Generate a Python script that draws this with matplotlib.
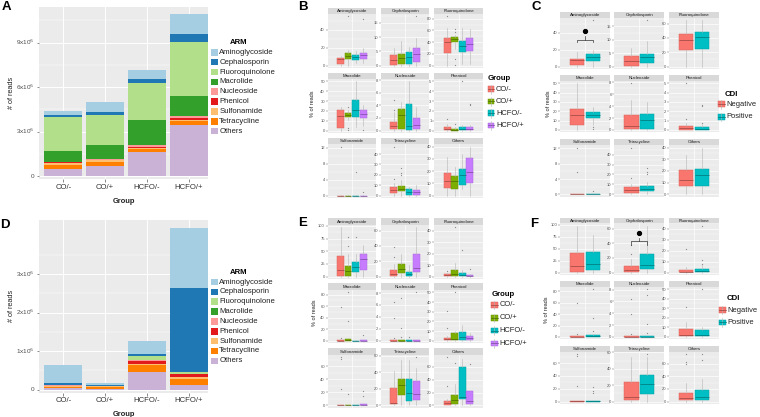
import numpy as np
import matplotlib
matplotlib.use('Agg')
import matplotlib.pyplot as plt
import matplotlib.colors as mcolors
from matplotlib.patches import Rectangle
from matplotlib.lines import Line2D

plt.rcParams['font.family'] = ['Liberation Sans', 'DejaVu Sans']

# %%
# Data

groups = ['CO/-', 'CO/+', 'HCFO/-', 'HCFO/+']
cdi = ['Negative', 'Positive']
arm = ['Aminoglycoside', 'Cephalosporin', 'Fluoroquinolone', 'Macrolide', 'Nucleoside',
       'Phenicol', 'Sulfonamide', 'Tetracycline', 'Others']
arm_colors = ['#A6CEE3', '#1F78B4', '#B2DF8A', '#33A02C', '#FB9A99',
              '#E31A1C', '#FDBF6F', '#FF7F00', '#CAB2D6']
group_colors = ['#F8766D', '#7CAE00', '#00BFC4', '#C77CFF']
cdi_colors = ['#F8766D', '#00BFC4']

# reads (millions), rows follow arm, columns follow groups
reads_A = [[0.31, 0.61, 0.61, 1.35],
           [0.13, 0.22, 0.29, 0.54],
           [2.25, 2.07, 2.47, 3.64],
           [0.74, 0.92, 1.73, 1.33],
           [0.05, 0.05, 0.11, 0.11],
           [0.02, 0.02, 0.03, 0.16],
           [0.16, 0.09, 0.07, 0.05],
           [0.25, 0.31, 0.25, 0.29],
           [0.49, 0.67, 1.60, 3.44]]
reads_D = [[0.47, 0.04, 0.32, 1.57],
           [0.05, 0.025, 0.07, 2.19],
           [0.005, 0.003, 0.08, 0.03],
           [0.003, 0.002, 0.02, 0.005],
           [0.003, 0.002, 0.02, 0.01],
           [0.005, 0.003, 0.07, 0.08],
           [0.02, 0.01, 0.02, 0.04],
           [0.05, 0.06, 0.20, 0.15],
           [0.03, 0.015, 0.45, 0.13]]

# box stats (% of reads), one row per ARM facet
B_q1 = [[2, 7.6, 6.5, 7.6], [0.3, 0.6, 0.7, 1.2], [22, 40, 24, 25], [2.5, 14, 14, 13], [0.2, 0.2, 0.1, 0.2],
        [0.05, 0, 0.05, 0.05], [0, 0, 0, 0], [2, 4, 1, 1], [6, 5.5, 9, 10]]
B_med = [[7.4, 10.6, 9.1, 11.4], [1.8, 2.7, 3.0, 3.9], [40, 45.7, 33.8, 36.8], [15, 16, 21, 17], [0.8, 2.4, 0.7, 0.9],
         [0.2, 0.1, 0.2, 0.15], [0, 0, 0, 0], [5, 6.5, 3, 3], [12, 12, 16.5, 19]]
B_q3 = [[8.5, 14, 11.4, 14], [3.7, 4.0, 4.9, 6.3], [47.4, 49.2, 41.5, 46.8], [21, 18, 31, 21], [1.4, 3.5, 4.2, 2.0],
        [0.35, 0.15, 0.35, 0.35], [0, 0, 0, 0], [8, 9.5, 6, 5.5], [18.5, 16, 21.5, 31]]
B_lo = [[0, 0, 3, 3], [0, 0, 0, 0], [0, 28, 3, 2], [0, 11, 4, 5], [0, 0, 0, 0],
        [0, 0, 0, 0], [0, 0, 0, 0], [0, 0, 0, 0], [0, 0, 5, 0]]
B_hi = [[10.6, 17, 16, 20], [6.3, 8.5, 6.7, 9.8], [65, 52, 65, 62], [24, 21, 50, 26], [3, 4.6, 7.8, 3.8],
        [0.7, 0.4, 0.6, 0.6], [0.1, 0.1, 0.1, 0.1], [12, 15, 8, 10], [32, 23, 34, 40]]
B_fl = [[[], [55], [], [52.6]], [[], [], [], [17.3]], [[84], [63, 57, 12, 1], [], []],
        [[], [24, 3, 1], [], [1]], [[4.9, 3.3], [], [], []], [[1.2], [0.7], [5.0], [2.7, 2.6]],
        [[12.2], [], [5.9], [1.0]], [[47, 16], [27, 22, 20], [], []], [[], [], [], []]]
B_step = [20, 5, 20, 10, 2, 1, 4, 10, 10]

C_q1 = [[2, 7], [0.3, 1.3], [23, 25], [5, 13], [0.1, 0.2], [0.05, 0.05], [0, 0], [1, 3.5], [7, 7]]
C_med = [[7.5, 11], [2, 3.5], [37, 42], [16, 16], [0.7, 1.6], [0.25, 0.15], [0, 0], [4, 5.5], [12, 16.5]]
C_q3 = [[9.5, 15], [4, 4.7], [46, 48], [23, 19], [2.5, 2.7], [0.4, 0.3], [0, 0], [7, 8], [21, 21.5]]
C_lo = [[0, 0], [0, 0], [0, 0], [0, 5], [0, 0], [0, 0], [0, 0], [0, 0], [0, 0]]
C_hi = [[17, 20], [7, 9.5], [65, 65], [50, 25], [5, 4.6], [0.8, 0.6], [0.1, 0.1], [10, 12], [34, 40]]
C_fl = [[[], [55]], [[], [17.3]], [[], []], [[], [3, 1]], [[7.8], []], [[1.2, 5.0], [2.7, 2.6, 0.7]],
        [[12.2, 5.9], [1.0]], [[47, 16], [27, 22, 20]], [[], []]]
C_step = [20, 5, 20, 10, 2, 1, 4, 10, 10]

E_q1 = [[2, 2, 8, 12], [1, 4, 1, 6], [0.3, 0.5, 0.3, 0.1], [0.2, 0.2, 0, 0], [0, 0, 0, 0],
        [0.5, 0.5, 1, 1], [0, 0, 0, 0], [1, 12, 5, 6], [1, 2, 10, 2]]
E_med = [[13, 10, 18, 34], [3.5, 10, 3, 11], [1, 2, 1.5, 0.5], [0.5, 1, 0.2, 0.5], [0.05, 0.05, 0.05, 0.05],
         [1.5, 2, 3.5, 2.5], [0.2, 0.2, 0.2, 1], [3, 25, 15, 14], [4, 9, 13, 6]]
E_q3 = [[41, 20, 28, 45], [9, 16.5, 6, 29], [2, 5.5, 3, 1], [1, 2.5, 0.5, 1], [0.1, 0.1, 0.1, 0.1],
        [3, 8, 9.5, 5.5], [0.4, 0.4, 0.4, 1.5], [21, 32, 32, 29], [7, 16, 60, 22]]
E_lo = [[0, 0, 0, 0]] * 9
E_hi = [[97, 45, 45, 62], [17, 29, 15, 64], [3, 12, 6, 2], [2, 4, 1, 2], [0.2, 0.2, 0.2, 0.2],
        [5, 10, 16, 8], [0.8, 0.8, 0.8, 2], [42, 55, 55, 45], [10, 34, 72, 22]]
E_fl = [[[], [78, 60], [78], []], [[38, 26], [], [], []], [[5], [43], [23], [7]],
        [[59, 5], [84, 34], [], [11]], [[6.5, 3.9, 0.5], [7.1, 2.2, 0.6], [0.6], [8.1]],
        [[31, 13], [50], [], []], [[74, 71, 25], [17], [], [22, 14]], [[], [], [], [58]],
        [[75, 30], [66], [], [65]]]
E_step = [25, 20, 10, 20, 2, 10, 20, 20, 20]

F_q1 = [[1, 6], [1, 5], [0.3, 0.5], [0, 0.2], [0, 0], [0.5, 1], [0, 0], [2, 9], [2, 2]]
F_med = [[14, 18], [3, 10], [1, 1.5], [0.5, 1], [0.05, 0.05], [1.5, 2], [0.2, 0.5], [6, 21], [6, 7]]
F_q3 = [[41, 44], [9, 25], [2.5, 3.5], [1, 2.5], [0.1, 0.1], [8, 7], [0.4, 1], [24, 32], [13, 19]]
F_lo = [[0, 0]] * 9
F_hi = [[98, 78], [18, 64], [5, 7], [2, 5], [0.2, 0.2], [16, 10], [0.8, 2], [54, 55], [30, 36]]
F_fl = [[[], []], [[38, 26], []], [[22], [43, 12, 8]], [[59, 5], [84, 34, 11]],
        [[6.5, 3.9, 0.5], [8.1, 7.1, 2.2, 0.6]], [[31], [50]], [[74, 71, 25], [22, 17, 14]],
        [[], [58]], [[75, 63, 60], [75, 66]]]
F_step = [25, 20, 10, 20, 2, 10, 20, 20, 20]

# %%
# Layout helpers (pixel coords, origin top-left)

W, H = 760, 417
fig = plt.figure(figsize=(W / 100, H / 100), dpi=100)
fig.patch.set_facecolor('white')


def rect(x0, y0, x1, y1):
    return [x0 / W, 1 - y1 / H, (x1 - x0) / W, (y1 - y0) / H]


def T(x, y, s, **kw):
    return fig.text(x / W, 1 - y / H, s, **kw)


def box(x, y, w, h, **kw):
    fig.add_artist(Rectangle((x / W, 1 - (y + h) / H), w / W, h / H, transform=fig.transFigure, **kw))


def hline(x0, x1, y, **kw):
    fig.add_artist(Line2D([x0 / W, x1 / W], [1 - y / H, 1 - y / H], transform=fig.transFigure, **kw))


def vline(x, y0, y1, **kw):
    fig.add_artist(Line2D([x / W, x / W], [1 - y0 / H, 1 - y1 / H], transform=fig.transFigure, **kw))


def darker(col, f=0.72):
    r, g, b = mcolors.to_rgb(col)
    return (r * f, g * f, b * f)


# %%
# Stacked bar panels

def bar_panel(area, data, top, ticks, ticklabels, legend_x, legend_y, bottom_lim):
    ax = fig.add_axes(rect(*area))
    ax.set_facecolor('#EBEBEB')
    x = np.arange(len(groups))
    vals = np.array(data) * 1e6
    base = np.zeros(len(groups))
    for i in reversed(range(len(arm))):
        ax.bar(x, vals[i], 0.9, bottom=base, color=arm_colors[i], linewidth=0, zorder=2)
        base += vals[i]
    ax.set_xlim(-0.58, 3.46)
    ax.set_ylim(bottom_lim, top)
    ax.set_xticks(x)
    ax.set_xticklabels(groups, fontsize=5.6, color='#333333')
    ax.set_yticks(ticks)
    ax.set_yticklabels([])
    for t, lab in zip(ticks, ticklabels):
        ax.text(-0.025, t, lab, transform=ax.get_yaxis_transform(), fontsize=4.6,
                color='#4D4D4D', ha='right', va='center')
    step = ticks[1] - ticks[0]
    ax.set_yticks([t + step / 2 for t in ticks], minor=True)
    ax.grid(True, which='major', color='white', lw=0.7)
    ax.grid(True, which='minor', axis='y', color='white', lw=0.35)
    ax.set_axisbelow(True)
    for s in ax.spines.values():
        s.set_visible(False)
    ax.tick_params(which='both', length=1.8, width=0.4, color='#333333', pad=1.5)
    ax.tick_params(which='minor', length=0)
    ax.set_ylabel('# of reads', fontsize=5.2, labelpad=14, color='#222222')
    ax.set_xlabel('Group', fontsize=5.4, fontweight='bold', labelpad=5, color='#222222')
    # legend
    T(legend_x + 28, legend_y - 10, 'ARM', fontsize=5.6, fontweight='bold', ha='center', va='center')
    for i, name in enumerate(arm):
        yy = legend_y + i * 9.85
        box(legend_x, yy - 3.3, 6.6, 6.6, color=arm_colors[i], lw=0)
        T(legend_x + 8.2, yy, name, fontsize=5.6, va='center', ha='left', color='#222222')
    return ax


bar_panel((39, 7, 208, 179), reads_A, 11.4e6, [0, 3e6, 6e6, 9e6],
          ['0', r'3x10$^6$', r'6x10$^6$', r'9x10$^6$'], 211, 52.3, -0.2e6)
bar_panel((39, 220, 208, 392.7), reads_D, 4.40e6, [0, 1e6, 2e6, 3e6],
          ['0', r'1x10$^6$', r'2x10$^6$', r'3x10$^6$'], 211, 282, -0.08e6)

# %%
# Faceted box plot panels

def box_panel(cols, rows, q1, med, q3, lo, hi, fl, steps, colors, width, offs):
    axes = []
    for k in range(9):
        r, c = divmod(k, 3)
        x0, x1 = cols[c]
        s0, s1, p1 = rows[r]
        st = fig.add_axes(rect(x0, s0, x1, s1))
        st.set_facecolor('#D9D9D9')
        st.set_xticks([])
        st.set_yticks([])
        for s in st.spines.values():
            s.set_visible(False)
        st.text(0.5, 0.5, arm[k], fontsize=3.2, ha='center', va='center', color='#1A1A1A',
                transform=st.transAxes)
        ax = fig.add_axes(rect(x0, s1, x1, p1))
        ax.set_facecolor('#EBEBEB')
        n = len(colors)
        stats = [dict(q1=q1[k][j], med=med[k][j], q3=q3[k][j], whislo=lo[k][j], whishi=hi[k][j],
                      fliers=fl[k][j]) for j in range(n)]
        bp = ax.bxp(stats, positions=1 + np.array(offs), widths=width, patch_artist=True,
                    showcaps=False, manage_ticks=False,
                    boxprops=dict(lw=0.35),
                    whiskerprops=dict(lw=0.4, color='#B5B5B5'),
                    medianprops=dict(lw=0.5),
                    flierprops=dict(marker='o', ms=0.9, mfc='#8A8A8A', mec='none'))
        for j, col in enumerate(colors):
            bp['boxes'][j].set_facecolor(col)
            bp['boxes'][j].set_edgecolor(darker(col, 0.85))
            bp['medians'][j].set_color(darker(col, 0.6))
        vmin = min(min(lo[k]), 0)
        vmax = max(max(hi[k]), max([max(f) if f else 0 for f in fl[k]]))
        rng = vmax - vmin
        ax.set_xlim(0.4, 1.6)
        ticks = np.arange(0, vmax + 0.05 * rng + 1e-9, steps[k])
        ax.set_yticks(ticks)
        ax.set_yticklabels(['%g' % t for t in ticks], fontsize=3.0, color='#555555')
        ax.set_yticks(ticks + steps[k] / 2, minor=True)
        ax.set_xticks([1])
        ax.set_xticklabels([])
        ax.grid(True, which='major', color='white', lw=0.5)
        ax.grid(True, which='minor', axis='y', color='white', lw=0.25)
        ax.set_axisbelow(True)
        ax.set_ylim(vmin - 0.05 * rng, vmax + 0.05 * rng)
        for s in ax.spines.values():
            s.set_visible(False)
        ax.tick_params(which='both', length=1.2, width=0.3, color='#555555', pad=0.8)
        ax.tick_params(which='minor', length=0)
        ax.tick_params(axis='x', length=0)
        axes.append(ax)
    return axes


def group_legend(x, y0, dy, labels, colors, title, title_x, title_y):
    T(title_x, title_y, title, fontsize=5.6, fontweight='bold', ha='left', va='center')
    for i, (lab, col) in enumerate(zip(labels, colors)):
        yy = y0 + i * dy
        vline(x + 3.3, yy - 4.2, yy + 4.2, color='#B5B5B5', lw=0.4)
        box(x, yy - 2.8, 6.6, 5.6, facecolor=col, edgecolor=darker(col, 0.85), lw=0.35)
        hline(x, x + 6.6, yy, color=darker(col, 0.6), lw=0.5)
        T(x + 8.5, yy, lab, fontsize=5.4, va='center', ha='left', color='#222222')


def bracket(ax, xa, xb, y_end, y_h, y_c, y_dot):
    ax.plot([xa, xa, xb, xb], [y_end, y_h, y_h, y_end], color='#333333', lw=0.5, zorder=5)
    ax.plot([(xa + xb) / 2] * 2, [y_h, y_c], color='#333333', lw=0.5, zorder=5)
    ax.plot([(xa + xb) / 2], [y_dot], 'o', color='black', ms=2.8, zorder=5)


off4 = [-0.28125, -0.09375, 0.09375, 0.28125]
off2 = [-0.1875, 0.1875]

colsBE = [(327.7, 376), (381, 429.3), (434.3, 482.7)]
colsCF = [(560, 610), (614.3, 664.3), (669, 719)]

rowsB = [(7.7, 14, 68), (72.7, 79, 133), (138.3, 144.3, 198)]
rowsC = [(11.7, 17.7, 69), (75, 81, 132.3), (139.3, 145.3, 196.7)]
rowsE = [(218.3, 225, 279), (283.3, 290, 343.3), (348.3, 355, 407.7)]
rowsF = [(217.7, 223.3, 275), (281, 286.7, 339.3), (345.7, 351.7, 404)]

box_panel(colsBE, rowsB, B_q1, B_med, B_q3, B_lo, B_hi, B_fl, B_step, group_colors, 0.17, off4)
axC = box_panel(colsCF, rowsC, C_q1, C_med, C_q3, C_lo, C_hi, C_fl, C_step, cdi_colors, 0.34, off2)
box_panel(colsBE, rowsE, E_q1, E_med, E_q3, E_lo, E_hi, E_fl, E_step, group_colors, 0.17, off4)
axF = box_panel(colsCF, rowsF, F_q1, F_med, F_q3, F_lo, F_hi, F_fl, F_step, cdi_colors, 0.34, off2)

bracket(axC[0], 1 - 0.1875, 1 + 0.1875, 28.8, 32, 36, 41.6)
bracket(axF[1], 1 - 0.1875, 1 + 0.1875, 38, 43.5, 47, 53.5)

for yx, yy in [(312, 104), (548, 104), (314, 313), (547, 310)]:
    T(yx, yy, '% of reads', fontsize=4.0, rotation=90, ha='center', va='center', color='#222222')

group_legend(487.5, 89.3, 12, groups, group_colors, 'Group', 488, 79)
group_legend(491, 305, 12.8, groups, group_colors, 'Group', 492, 295)
group_legend(718, 104.3, 12.4, cdi, cdi_colors, 'CDI', 725, 95)
group_legend(719, 310, 12.3, cdi, cdi_colors, 'CDI', 727, 298.3)

# %%
# Panel letters

for lab, lx, ly in [('A', 1.5, 7), ('B', 298, 7.5), ('C', 531.5, 7.2),
                    ('D', 0, 224.5), ('E', 298, 223.3), ('F', 530.5, 223.6)]:
    T(lx, ly, lab, fontsize=9.5, fontweight='bold', ha='left', va='center')

fig.savefig('out.png', dpi=100)
